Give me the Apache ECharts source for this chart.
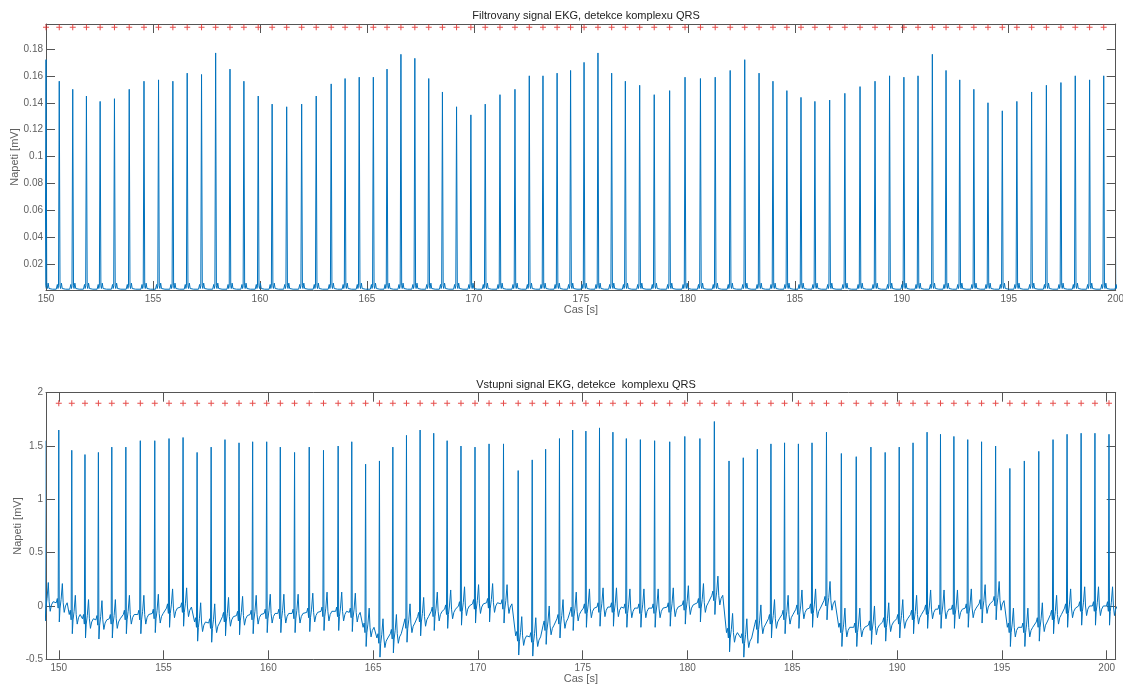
<!DOCTYPE html>
<html>
<head>
<meta charset="utf-8">
<title>EKG - detekce QRS</title>
<script src="https://cdn.jsdelivr.net/npm/echarts@6/dist/echarts.min.js"></script>
<style>
  html, body { margin: 0; padding: 0; background: #ffffff; }
  #chart { width: 1123px; height: 684px; }
</style>
</head>
<body>
<div id="chart"></div>
<script>
// Detected QRS times [s] (R-peak positions); the first one lies just left of the plotted window
const beatTimes = [
  149.33, 150.00, 150.62, 151.25, 151.89, 152.53, 153.20, 153.89, 154.58, 155.26,
  155.93, 156.60, 157.27, 157.93, 158.60, 159.25, 159.92, 160.57, 161.25, 161.95,
  162.63, 163.33, 163.98, 164.64, 165.30, 165.94, 166.59, 167.24, 167.89, 168.53,
  169.19, 169.86, 170.53, 171.22, 171.92, 172.59, 173.23, 173.89, 174.52, 175.15,
  175.80, 176.44, 177.08, 177.75, 178.43, 179.15, 179.87, 180.59, 181.28, 181.98,
  182.66, 183.33, 183.98, 184.63, 185.29, 185.94, 186.63, 187.34, 188.05, 188.75,
  189.43, 190.10, 190.76, 191.43, 192.07, 192.71, 193.37, 194.03, 194.70, 195.38,
  196.07, 196.76, 197.44, 198.11, 198.78, 199.44, 200.11
];

// Filtered signal: peak amplitude of each QRS [mV]
const filteredPeaks = [
  0.165, 0.172, 0.156, 0.150, 0.145, 0.141, 0.143, 0.150, 0.156, 0.157,
  0.156, 0.162, 0.161, 0.177, 0.165, 0.156, 0.145, 0.139, 0.137, 0.139,
  0.145, 0.154, 0.158, 0.159, 0.159, 0.165, 0.176, 0.173, 0.158, 0.148,
  0.137, 0.131, 0.139, 0.146, 0.150, 0.160, 0.160, 0.162, 0.164, 0.170,
  0.177, 0.162, 0.156, 0.153, 0.146, 0.149, 0.159, 0.158, 0.159, 0.164,
  0.172, 0.162, 0.156, 0.149, 0.144, 0.141, 0.142, 0.147, 0.152, 0.156,
  0.160, 0.159, 0.160, 0.176, 0.164, 0.157, 0.150, 0.140, 0.134, 0.141,
  0.148, 0.153, 0.155, 0.160, 0.157, 0.160, 0.160
];

// Input signal: R-peak amplitude of each beat [mV]
const rawPeaks = [
  1.55, 1.65, 1.46, 1.42, 1.44, 1.49, 1.49, 1.55, 1.55, 1.57,
  1.58, 1.44, 1.49, 1.56, 1.53, 1.54, 1.54, 1.49, 1.44, 1.49,
  1.46, 1.50, 1.54, 1.33, 1.36, 1.49, 1.60, 1.65, 1.62, 1.55,
  1.50, 1.49, 1.52, 1.52, 1.27, 1.37, 1.47, 1.57, 1.65, 1.64,
  1.67, 1.63, 1.57, 1.56, 1.55, 1.54, 1.59, 1.57, 1.73, 1.36,
  1.39, 1.47, 1.52, 1.53, 1.52, 1.53, 1.63, 1.43, 1.40, 1.49,
  1.44, 1.49, 1.53, 1.63, 1.61, 1.59, 1.56, 1.54, 1.50, 1.29,
  1.36, 1.45, 1.56, 1.61, 1.62, 1.62, 1.61
];

// Input signal: isoelectric (baseline) level around each beat [mV]
const rawBaseline = [
   0.04,  0.03, -0.08, -0.12, -0.13, -0.12, -0.08, -0.08, -0.07, -0.02,
  -0.01, -0.15, -0.16, -0.10, -0.09, -0.08, -0.07, -0.07, -0.07, -0.06,
  -0.05, -0.05, -0.06, -0.20, -0.30, -0.26, -0.16, -0.10, -0.05, -0.03,
   0.00,  0.02,  0.03,  0.02, -0.28, -0.29, -0.18, -0.12, -0.05, -0.02,
  -0.01, -0.01, -0.02, -0.02, -0.02, -0.01,  0.01,  0.03,  0.10, -0.25,
  -0.30, -0.17, -0.12, -0.08, -0.03, -0.02,  0.05, -0.20, -0.20, -0.18,
  -0.15, -0.12, -0.08, -0.03, -0.03, -0.03, -0.02,  0.02,  0.05, -0.20,
  -0.20, -0.15, -0.08, -0.02,  0.00,  0.00,  0.00
];

// One filtered complex: time offsets from the R peak [s] and levels [mV] (peak slot is null)
const filtShapeT = [-0.14, -0.09, -0.06, -0.035, 0, 0.035, 0.06, 0.10, 0.14, 0.20, 0.30];
const filtShapeV = [0.0015, 0.005, 0.002, 0.004, null, 0.004, 0.002, 0.006, 0.002, 0.0015, 0.0015];

// One raw complex (P, Q, R, S, T): offsets [s] and levels relative to baseline [mV]
const rawShapeT = [-0.12, -0.07, -0.03, 0, 0.025, 0.06, 0.11, 0.17, 0.21, 0.26, 0.32, 0.40];
const rawShapeV = [0.00, 0.04, -0.05, null, -0.18, -0.05, 0.03, 0.18, 0.00, -0.09, -0.03, 0.00];

// Level at which the QRS detections are marked
const filtMarkerLevel = 0.196;
const rawMarkerLevel = 1.9;

// Axis ticks
const xTicks = [150, 155, 160, 165, 170, 175, 180, 185, 190, 195, 200];
const filtYTicks = [0.02, 0.04, 0.06, 0.08, 0.1, 0.12, 0.14, 0.16, 0.18];
const rawYTicks = [-0.5, 0, 0.5, 1, 1.5, 2];

// Axis limits
const filtX = [150, 200], filtY = [0.0009, 0.1985];
const rawX = [149.39, 200.43], rawY = [-0.5, 2];

function buildFiltered() {
  const pts = [];
  beatTimes.forEach((t0, i) => {
    filtShapeT.forEach((dt, k) => {
      const v = filtShapeV[k] === null ? filteredPeaks[i] : filtShapeV[k];
      pts.push([t0 + dt, v]);
    });
  });
  return pts;
}

function buildRaw() {
  const pts = [];
  beatTimes.forEach((t0, i) => {
    rawShapeT.forEach((dt, k) => {
      const v = rawShapeV[k] === null ? rawPeaks[i] : rawBaseline[i] + rawShapeV[k];
      pts.push([t0 + dt, v]);
    });
  });
  return pts;
}

function markers(range, level) {
  return beatTimes.filter(t => t >= range[0] && t <= range[1]).map(t => [t, level]);
}

const FONT = 'Liberation Sans, Arial, Helvetica, sans-serif';
const AXIS_COLOR = '#555555';
const LABEL_COLOR = '#5f5f5f';
const LINE_COLOR = '#0072BD';
const PLUS = 'path://M2.5,0H3.5V6H2.5Z M0,2.5H6V3.5H0Z';

function xAxisPair(gridIndex, range, name) {
  const common = {
    type: 'value', gridIndex, min: range[0], max: range[1],
    splitLine: { show: false },
    axisLine: { show: true, onZero: false, lineStyle: { color: AXIS_COLOR, width: 1 } }
  };
  return [
    Object.assign({}, common, {
      position: 'bottom',
      name, nameLocation: 'middle', nameGap: 14, nameMoveOverlap: false,
      nameTextStyle: { fontFamily: FONT, fontSize: 11, color: LABEL_COLOR },
      axisTick: { show: true, inside: true, length: 9, customValues: xTicks, lineStyle: { color: AXIS_COLOR } },
      axisLabel: { show: true, margin: 4, customValues: xTicks, fontFamily: FONT, fontSize: 10, color: LABEL_COLOR }
    }),
    Object.assign({}, common, {
      position: 'top',
      axisTick: { show: true, inside: true, length: 9, customValues: xTicks, lineStyle: { color: AXIS_COLOR } },
      axisLabel: { show: false }
    })
  ];
}

function yAxisPair(gridIndex, range, ticks, name, nameGap) {
  const common = {
    type: 'value', gridIndex, min: range[0], max: range[1],
    splitLine: { show: false },
    axisLine: { show: true, onZero: false, lineStyle: { color: AXIS_COLOR, width: 1 } }
  };
  return [
    Object.assign({}, common, {
      position: 'left',
      name, nameLocation: 'middle', nameGap, nameRotate: 90, nameMoveOverlap: false,
      nameTextStyle: { fontFamily: FONT, fontSize: 11, color: LABEL_COLOR },
      axisTick: { show: true, inside: true, length: 9, customValues: ticks, lineStyle: { color: AXIS_COLOR } },
      axisLabel: { show: true, margin: 3, customValues: ticks, fontFamily: FONT, fontSize: 10, color: LABEL_COLOR }
    }),
    Object.assign({}, common, {
      position: 'right',
      axisTick: { show: true, inside: true, length: 9, customValues: ticks, lineStyle: { color: AXIS_COLOR } },
      axisLabel: { show: false }
    })
  ];
}

const chart = echarts.init(document.getElementById('chart'), null, { renderer: 'canvas' });

chart.setOption({
  animation: false,
  backgroundColor: '#ffffff',
  title: [
    {
      text: 'Filtrovany signal EKG, detekce komplexu QRS',
      left: 581, top: 5, textAlign: 'center',
      textStyle: { fontFamily: FONT, fontSize: 11, fontWeight: 'normal', color: '#222222' }
    },
    {
      text: 'Vstupni signal EKG, detekce  komplexu QRS',
      left: 581, top: 374, textAlign: 'center',
      textStyle: { fontFamily: FONT, fontSize: 11, fontWeight: 'normal', color: '#222222' }
    }
  ],
  grid: [
    { left: 46, top: 24, width: 1069.7, height: 266, outerBoundsMode: 'none', containLabel: false },
    { left: 46, top: 392.7, width: 1069.7, height: 266.6, outerBoundsMode: 'none', containLabel: false }
  ],
  xAxis: [
    ...xAxisPair(0, filtX, 'Cas [s]'),
    ...xAxisPair(1, rawX, 'Cas [s]')
  ],
  yAxis: [
    ...yAxisPair(0, filtY, filtYTicks, 'Napeti [mV]', 26),
    ...yAxisPair(1, rawY, rawYTicks, 'Napeti [mV]', 23)
  ],
  series: [
    {
      name: 'Filtrovany signal', type: 'line', xAxisIndex: 0, yAxisIndex: 0,
      data: buildFiltered(), showSymbol: false, clip: true,
      lineStyle: { color: LINE_COLOR, width: 1 }, z: 2
    },
    {
      name: 'QRS (filtrovany)', type: 'scatter', xAxisIndex: 0, yAxisIndex: 0,
      data: markers(filtX, filtMarkerLevel), symbol: PLUS, symbolSize: 6,
      itemStyle: { color: '#e0201e' }, z: 3
    },
    {
      name: 'Vstupni signal', type: 'line', xAxisIndex: 2, yAxisIndex: 2,
      data: buildRaw(), showSymbol: false, clip: true,
      lineStyle: { color: LINE_COLOR, width: 1 }, z: 2
    },
    {
      name: 'QRS (vstupni)', type: 'scatter', xAxisIndex: 2, yAxisIndex: 2,
      data: markers(rawX, rawMarkerLevel), symbol: PLUS, symbolSize: 6,
      itemStyle: { color: '#e0201e' }, z: 3
    }
  ]
});
</script>
</body>
</html>
